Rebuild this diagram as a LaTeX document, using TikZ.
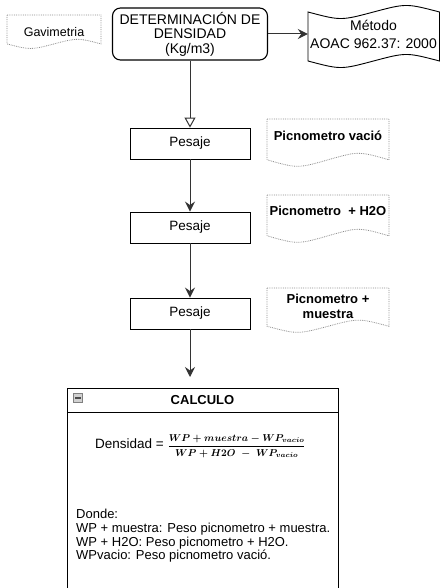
\documentclass[tikz,border=0pt]{standalone}
\usepackage{amsmath,bm}
\usepackage{fontspec}
\setmainfont{Liberation Sans}
\usetikzlibrary{arrows.meta,calc}

% document shape: x0, y0 (top), width, height -- wavy bottom edge
\newcommand\docshape[4]{%
  \draw[docline] (#1,#2) -- ({#1+#3},#2) -- ({#1+#3},{#2+0.85*#4})
    .. controls ({#1+0.75*#3},{#2+0.67*#4}) .. ({#1+0.5*#3},{#2+0.85*#4})
    .. controls ({#1+0.25*#3},{#2+1.03*#4}) .. (#1,{#2+0.85*#4}) -- cycle;}

\begin{document}
\begin{tikzpicture}[x=1pt,y=-1pt,
  conn/.style={draw=black!80, line width=1pt},
  filledtip/.style={-{Stealth[length=10pt,width=10pt,inset=3.5pt]}},
  docline/.style={draw=black!45, line width=0.8pt, densely dotted},
  mainbox/.style={draw, line width=1.1pt, rounded corners=8pt, fill=white,
    minimum width=155pt, minimum height=52pt, inner sep=0pt, align=center,
    font=\fontsize{14}{14.5}\selectfont},
  procbox/.style={draw, line width=0.9pt, fill=white, minimum width=120pt,
    minimum height=31pt, inner sep=0pt, font=\fontsize{13.5}{15}\selectfont},
  doctext/.style={inner sep=0pt, align=center, font=\bfseries\fontsize{13}{15}\selectfont},
  plain/.style={inner sep=0pt, align=left, font=\fontsize{13}{13.7}\selectfont}]

\useasboundingbox (0,0) rectangle (439,588);
\fill[white] (0,0) rectangle (439,588);

% top row
\docshape{7}{15}{94}{34}
\node[plain, font=\fontsize{12.5}{14}\selectfont] (gav) at (54,32) {Gavimetria};

\node[mainbox] (main) at (190,34) {DETERMINACIÓN DE\\DENSIDAD\\(Kg/m3)};

\draw[line width=0.9pt] (308,12) .. controls (340.75,20.7) .. (373.5,12)
  .. controls (406.25,3.3) .. (439.5,12) -- (439.5,61)
  .. controls (406.25,52.3) .. (373.5,61) .. controls (340.75,69.7) .. (308,61) -- cycle;
\node[inner sep=0pt, minimum width=131pt, align=center,
  font=\fontsize{14}{18}\selectfont] (met) at (373.5,34) {Método\\AOAC 962.37: 2000};

\draw[conn, filledtip] (main.east) -- (met.west);

% weighing steps
\node[procbox] (p1) at (190,143.5) {Pesaje};
\node[procbox] (p2) at (190,227.5) {Pesaje};
\node[procbox] (p3) at (190,313.5) {Pesaje};

\draw[conn, -{Triangle[open,length=10pt,width=11pt]}] (main.south) -- (p1.north);
\draw[conn, filledtip] (p1.south) -- (p2.north);
\draw[conn, filledtip] (p2.south) -- (p3.north);

% side notes
\docshape{267}{119}{122}{48}
\node[doctext] (d1) at (328,136) {Picnometro vació};
\docshape{267}{195}{122}{48}
\node[doctext] (d2) at (328,211) {Picnometro\ \ + H2O};
\docshape{267}{288}{122}{45}
\node[doctext] (d3) at (328,306.5) {Picnometro +\\muestra};

% calculation container
\node[draw, line width=0.9pt, minimum width=271pt, minimum height=212pt,
  inner sep=0pt, anchor=north west] (calc) at (67,388) {};
\draw[line width=0.9pt] ([yshift=-24pt]calc.north west) -- ([yshift=-24pt]calc.north east);
\node[draw=black!50, fill=black!18, minimum size=9pt, inner sep=0pt] (fold) at (78,398) {};
\draw[black!70, line width=1.2pt] ([xshift=2pt]fold.west) -- ([xshift=-2pt]fold.east);
\node[plain, font=\bfseries\fontsize{13}{15}\selectfont] (title) at (202.5,400) {CALCULO};

\draw[conn, filledtip, shorten >=11pt] (p3.south) -- (p3.south |- calc.north);

\node[plain, anchor=west, font=\fontsize{13.5}{15}\selectfont] (dens) at (95,446)
  {Densidad = {\fontsize{10}{12}\selectfont$\displaystyle\bm{\frac{WP+muestra-WP_{vacio}}{WP+H2O\;-\;WP_{vacio}}}$}};

\node[plain, anchor=north west] (where) at (76,509)
  {Donde:\\WP + muestra: Peso picnometro + muestra.\\WP + H2O: Peso picnometro + H2O.\\WPvacio: Peso picnometro vació.};
\end{tikzpicture}
\end{document}
